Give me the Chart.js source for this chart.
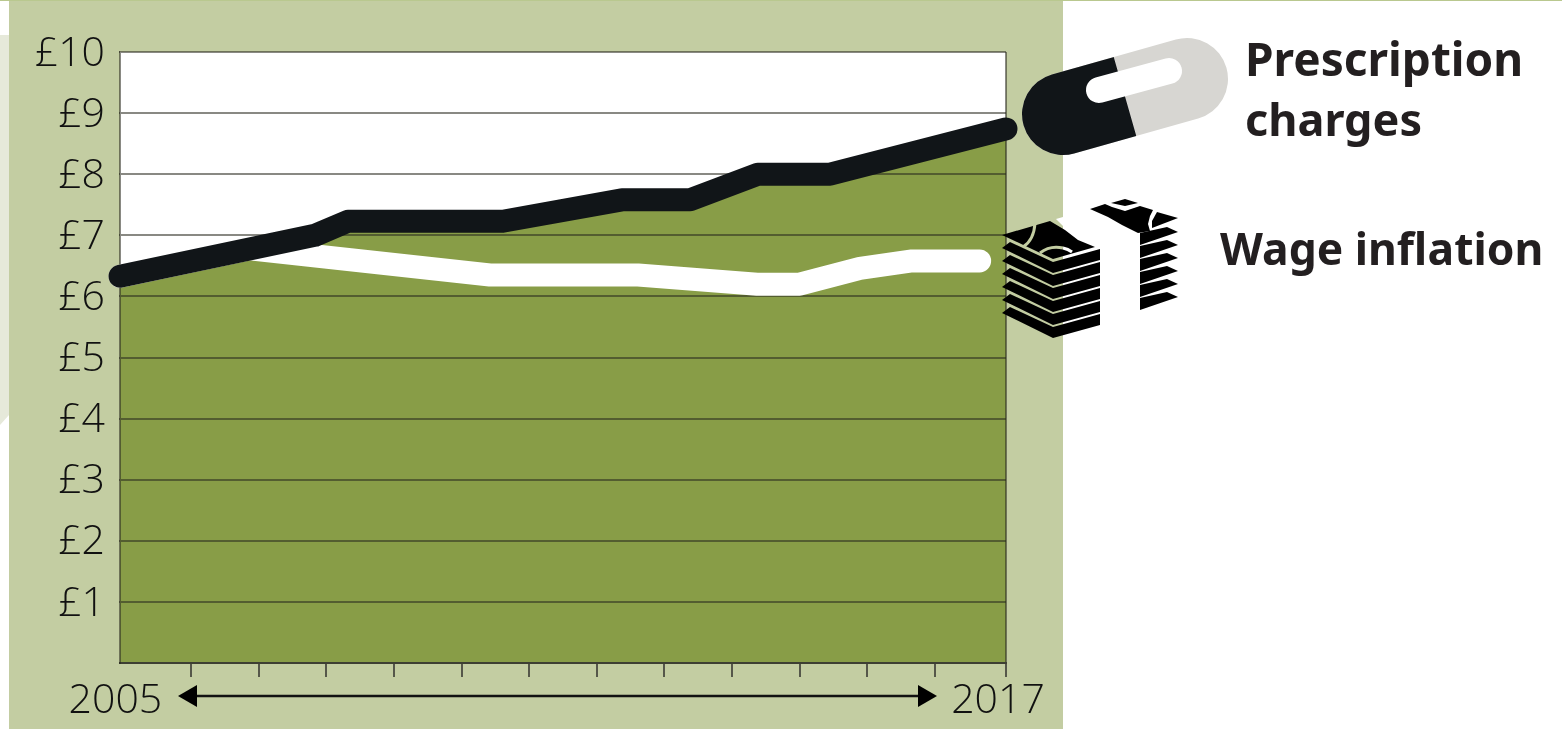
<!DOCTYPE html>
<html lang="en">
<head>
<meta charset="UTF-8">
<title>Prescription charges and wage inflation</title>
<script src="https://cdn.jsdelivr.net/npm/chart.js"></script>
<style>
    html, body { margin: 0; padding: 0; background: #fff; overflow: hidden; }
    #page { position: relative; width: 1562px; height: 729px; overflow: hidden; }
    #panel { position: absolute; left: 9px; top: 0; width: 1054px; height: 729px; background: #c3cda2; }
    #strip { position: absolute; left: 0; top: 35px; width: 9px; height: 390px; background: #e6e9da;
             clip-path: polygon(0 0, 100% 0, 100% 380px, 0 100%); }
    #topline { position: absolute; left: 0; top: 0; width: 1562px; height: 1px; background: #b9c88f; }
    #plotback { position: absolute; left: 120px; top: 52px; width: 886px; height: 611px; background: #fff; }
    canvas { position: absolute; left: 0; top: 0; }
    svg { position: absolute; left: 0; top: 0; }
    .label { position: absolute; font-family: 'Noto Sans', sans-serif; font-weight: 700; font-size: 45px;
             line-height: 60px; color: #231f20; white-space: nowrap; }
</style>
</head>
<body>
<div id="page">
    <div id="panel"></div>
    <div id="strip"></div>
    <div id="topline"></div>
    <div id="plotback"></div>
    <canvas id="chart" width="1562" height="729"></canvas>
    <svg width="1562" height="729" viewBox="0 0 1562 729">
        <defs>
            <clipPath id="pillLeft"><polygon points="1000,0 1103,0 1114,58 1136,135 1146,200 1000,200"/></clipPath>
            <polygon id="leftNote" points="1002,248 1010,242 1053,262 1100,249 1100,260 1053,273"/>
            <polygon id="rightNote" points="1140,233 1167,227 1178,232 1140,245"/>
        </defs>
        <!-- time arrow -->
        <line x1="192" y1="696" x2="922" y2="696" stroke="#111" stroke-width="2.5"/>
        <polygon points="178,696 197,685 197,707" fill="#000"/>
        <polygon points="937,696 918,685 918,707" fill="#000"/>
        <!-- pill -->
        <line x1="1063" y1="114" x2="1187" y2="79" stroke="#d7d6d2" stroke-width="82" stroke-linecap="round"/>
        <line x1="1063" y1="114" x2="1187" y2="79" stroke="#111518" stroke-width="82" stroke-linecap="round" clip-path="url(#pillLeft)"/>
        <line x1="1099" y1="90" x2="1169" y2="71" stroke="#fff" stroke-width="26" stroke-linecap="round"/>
        <!-- left stack of notes -->
        <polygon points="1056,219 1063,217 1063,226" fill="#fff"/>
        <g fill="#000">
            <use href="#leftNote"/>
            <use href="#leftNote" y="13"/>
            <use href="#leftNote" y="26"/>
            <use href="#leftNote" y="39"/>
            <use href="#leftNote" y="52"/>
            <use href="#leftNote" y="65"/>
            <polygon points="1002,235 1050,221 1065,230 1078,240 1095,247 1053,259"/>
        </g>
        <g fill="none" stroke-width="3">
            <path d="M1035,223 Q1034,240 1023,247" stroke="#c3cda2"/>
            <path d="M1040,253 Q1050,245 1063,248" stroke="#c3cda2"/>
            <path d="M1063,248 Q1068,249 1072,252" stroke="#fff"/>
        </g>
        <!-- right stack of notes -->
        <g fill="#000">
            <polygon points="1090,209 1105,204 1112,207 1125,211 1140,206 1153,210 1150,216 1148,224 1150,231 1138,233 1122,225 1108,217"/>
            <polygon points="1111,203 1125,199 1138,203 1125,206"/>
            <polygon points="1157,212 1178,218 1152,228 1152,221"/>
            <use href="#rightNote"/>
            <use href="#rightNote" y="13"/>
            <use href="#rightNote" y="26"/>
            <use href="#rightNote" y="39"/>
            <use href="#rightNote" y="52"/>
            <use href="#rightNote" y="65"/>
        </g>
    </svg>
    <div class="label" style="left:1245px; top:28px; font-size:46px;">Prescription</div>
    <div class="label" style="left:1245px; top:89px;">charges</div>
    <div class="label" style="left:1220px; top:218px; font-size:44.4px;">Wage inflation</div>
</div>

<script>
    const prescriptionYears = [2004.95, 2007.83, 2008.32, 2010.61, 2012.37, 2013.38, 2014.38, 2015.45, 2018.05];
    const prescriptionValues = [6.33, 7.0, 7.23, 7.23, 7.58, 7.58, 8.0, 8.0, 8.74];
    const wageYears = [2004.95, 2006.87, 2010.42, 2012.61, 2014.37, 2015.0, 2015.89, 2016.66, 2017.66];
    const wageValues = [6.33, 6.78, 6.35, 6.35, 6.2, 6.2, 6.46, 6.58, 6.58];
    const xTicks = [2005, 2006, 2007, 2008, 2009, 2010, 2011, 2012, 2013, 2014, 2015, 2016, 2017, 2018.05];
    const xTickLabels = { 2005: "2005", 2018.05: "2017" };
    const yTickLabels = ["", "£1", "£2", "£3", "£4", "£5", "£6", "£7", "£8", "£9", "£10"];

    const toPoints = (xs, ys) => xs.map((x, i) => ({ x: x, y: ys[i] }));
    const tickFont = { family: "'Open Sans', sans-serif", size: 41, weight: 300 };
    const gridDark = "rgba(40, 40, 30, 0.55)";

    new Chart(document.getElementById("chart"), {
        type: "line",
        data: {
            datasets: [
                {
                    label: "Prescription charges",
                    data: toPoints(prescriptionYears, prescriptionValues),
                    borderColor: "#111518",
                    backgroundColor: "#889d47",
                    borderWidth: 23,
                    fill: "origin",
                    clip: false
                },
                {
                    label: "Wage inflation",
                    data: toPoints(wageYears, wageValues),
                    borderColor: "#ffffff",
                    borderWidth: 23,
                    fill: false,
                    clip: false
                }
            ]
        },
        options: {
            responsive: false,
            animation: false,
            layout: { padding: { top: 52, right: 556 } },
            elements: {
                point: { radius: 0 },
                line: { tension: 0, borderCapStyle: "round", borderJoinStyle: "round" }
            },
            plugins: {
                legend: { display: false },
                tooltip: { enabled: false },
                // fill goes under the grid, the lines go over it
                filler: { drawTime: "beforeDraw" }
            },
            scales: {
                x: {
                    type: "linear",
                    min: 2004.95,
                    max: 2018.05,
                    afterFit: scale => { scale.height = 66; },
                    afterBuildTicks: scale => { scale.ticks = xTicks.map(v => ({ value: v })); },
                    border: { color: "#3d3f33", width: 2 },
                    grid: {
                        lineWidth: 2,
                        tickLength: 14,
                        color: ctx => ctx.tick && ctx.tick.value === 2018.05 ? gridDark : "rgba(0,0,0,0)",
                        tickColor: ctx => ctx.tick && ctx.tick.value === 2005 ? "rgba(0,0,0,0)" : "#55574a"
                    },
                    ticks: {
                        autoSkip: false,
                        maxRotation: 0,
                        labelOffset: -8,
                        padding: 0,
                        color: "#111",
                        font: tickFont,
                        callback: value => xTickLabels[value] || ""
                    }
                },
                y: {
                    min: 0,
                    max: 10,
                    afterFit: scale => { scale.width = 120; },
                    border: { color: gridDark, width: 2 },
                    grid: { color: gridDark, lineWidth: 2, tickLength: 0 },
                    ticks: {
                        stepSize: 1,
                        padding: 15,
                        labelOffset: 2,
                        color: "#111",
                        font: tickFont,
                        callback: (value, index) => yTickLabels[index]
                    }
                }
            }
        }
    });
</script>
</body>
</html>
